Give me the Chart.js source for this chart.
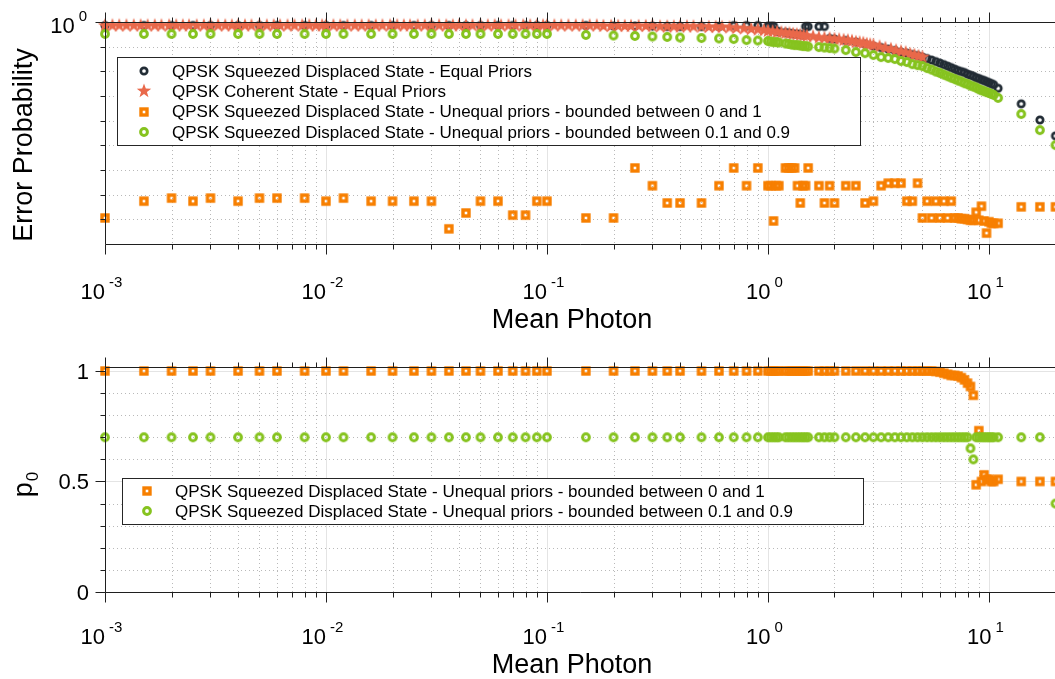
<!DOCTYPE html>
<html>
<head>
<meta charset="utf-8">
<script src="https://cdn.jsdelivr.net/npm/chart.js@4.4.0/dist/chart.umd.min.js"></script>
<style>
  html, body { margin: 0; padding: 0; background: #fff; }
  canvas { display: block; }
</style>
</head>
<body>
<canvas id="errChart" width="1055" height="340"></canvas>
<canvas id="priorChart" width="1055" height="339"></canvas>
<script>
// ---------- data ----------
const meanPhoton = [
  0.001, 0.0015, 0.002, 0.0025, 0.003, 0.004, 0.005, 0.006, 0.008, 0.01,
  0.012, 0.016, 0.02, 0.025, 0.03, 0.036, 0.043, 0.05, 0.06, 0.07, 0.08, 0.09, 0.1,
  0.15, 0.2, 0.25, 0.3, 0.35, 0.4, 0.5, 0.6, 0.7, 0.8, 0.9,
  1.0, 1.03, 1.06, 1.09, 1.12, 1.2, 1.24, 1.28, 1.32, 1.36, 1.4, 1.44, 1.48, 1.52,
  1.7, 1.8, 1.9, 2.0,
  2.25, 2.5, 2.75, 3.0, 3.25, 3.5, 3.75, 4.0, 4.25, 4.5, 4.75, 5.0,
  5.25, 5.5, 5.75, 6.0, 6.25, 6.5, 6.75, 7.0, 7.25, 7.5, 7.75, 8.0,
  8.25, 8.5, 8.75, 9.0, 9.25, 9.5, 9.75, 10.0, 10.25, 10.5,
  11, 14, 17, 20
];

// error probability, squeezed displaced state, equal priors
const errSqueezedEqual = [
  0.964, 0.964, 0.964, 0.964, 0.964, 0.964, 0.964, 0.964, 0.964, 0.964,
  0.964, 0.964, 0.964, 0.964, 0.964, 0.964, 0.964, 0.964, 0.964, 0.964, 0.964, 0.964, 0.964,
  0.964, 0.959, 0.959, 0.959, 0.954, 0.954, 0.954, 0.954, 0.964, 0.964, 0.964,
  0.959, 0.959, 0.959, 0.911, 0.906, 0.897, 0.892, 0.888, 0.883, 0.883, 0.879, 0.874, 0.954, 0.954,
  0.954, 0.954, 0.843, 0.838,
  0.825, 0.812, 0.796, 0.779, 0.767, 0.755, 0.744, 0.732, 0.724, 0.713, 0.706, 0.695,
  0.684, 0.674, 0.663, 0.653, 0.643, 0.633, 0.623, 0.613, 0.604, 0.598, 0.592, 0.582,
  0.576, 0.570, 0.561, 0.556, 0.550, 0.545, 0.539, 0.533, 0.528, 0.522,
  0.503, 0.428, 0.362, 0.307
];

// error probability, squeezed displaced state, unequal priors in [0, 1]
const errUnequal01 = [
  0.131, 0.156, 0.161, 0.156, 0.161, 0.156, 0.161, 0.161, 0.161, 0.156,
  0.161, 0.156, 0.156, 0.156, 0.156, 0.117, 0.138, 0.156, 0.156, 0.135, 0.135, 0.156, 0.156,
  0.131, 0.131, 0.220, 0.183, 0.153, 0.153, 0.153, 0.183, 0.220, 0.183, 0.220,
  0.183, 0.183, 0.127, 0.183, 0.183, 0.220, 0.220, 0.220, 0.220, 0.183, 0.153, 0.183, 0.183, 0.220,
  0.183, 0.153, 0.183, 0.153,
  0.183, 0.183, 0.153, 0.156, 0.183, 0.188, 0.188, 0.188, 0.156, 0.156, 0.188, 0.131,
  0.156, 0.131, 0.156, 0.131, 0.156, 0.131, 0.156, 0.131, 0.131, 0.130, 0.130, 0.129,
  0.128, 0.128, 0.139, 0.128, 0.148, 0.127, 0.112, 0.126, 0.124, 0.124,
  0.124, 0.147, 0.147, 0.147
];

// error probability, squeezed displaced state, unequal priors in [0.1, 0.9]
const errUnequal19 = [
  0.883, 0.883, 0.883, 0.883, 0.883, 0.883, 0.883, 0.883, 0.883, 0.883,
  0.883, 0.883, 0.883, 0.883, 0.883, 0.883, 0.883, 0.883, 0.883, 0.883, 0.883, 0.883, 0.883,
  0.874, 0.869, 0.865, 0.860, 0.856, 0.851, 0.847, 0.843, 0.838, 0.829, 0.825,
  0.821, 0.816, 0.812, 0.812, 0.808, 0.800, 0.796, 0.791, 0.787, 0.787, 0.783, 0.779, 0.779, 0.775,
  0.771, 0.767, 0.763, 0.759,
  0.747, 0.732, 0.724, 0.710, 0.695, 0.688, 0.681, 0.667, 0.660, 0.646, 0.639, 0.633,
  0.620, 0.610, 0.598, 0.589, 0.579, 0.570, 0.561, 0.553, 0.545, 0.539, 0.530, 0.525,
  0.517, 0.512, 0.506, 0.498, 0.493, 0.488, 0.483, 0.479, 0.474, 0.469,
  0.455, 0.385, 0.326, 0.279
];

// coherent state, equal priors (own, denser photon grid)
const coherentPhoton = [
  0.001, 0.00108, 0.00116, 0.00125, 0.00135, 0.00145, 0.00156, 0.00168,
  0.0018, 0.00195, 0.0021, 0.00225, 0.0024, 0.0026, 0.0028, 0.003,
  0.00325, 0.0035, 0.00375, 0.004, 0.0043, 0.0046, 0.005, 0.0054,
  0.0058, 0.0062, 0.0067, 0.0072, 0.0078, 0.0084, 0.009, 0.0096,
  0.01, 0.0108, 0.0116, 0.0125, 0.0135, 0.0145, 0.0156, 0.0168,
  0.018, 0.0195, 0.021, 0.0225, 0.024, 0.026, 0.028, 0.03,
  0.0325, 0.035, 0.0375, 0.04, 0.043, 0.046, 0.05, 0.054,
  0.058, 0.062, 0.067, 0.072, 0.078, 0.084, 0.09, 0.096,
  0.1, 0.108, 0.116, 0.125, 0.135, 0.145, 0.156, 0.168,
  0.18, 0.195, 0.21, 0.225, 0.24, 0.26, 0.28, 0.3,
  0.325, 0.35, 0.375, 0.4, 0.43, 0.46, 0.5, 0.54,
  0.58, 0.62, 0.67, 0.72, 0.78, 0.84, 0.9, 0.96,
  1.0, 1.05, 1.1, 1.15, 1.2, 1.25, 1.3, 1.35, 1.4, 1.45, 1.5, 1.6,
  1.7, 1.8, 1.9, 2.0, 2.1, 2.2, 2.3, 2.4, 2.5, 2.6, 2.7, 2.8,
  2.9, 3.0, 3.2, 3.4, 3.6, 3.8, 4.0, 4.2, 4.4, 4.6, 4.8, 5.0
];
const errCoherentEqual = [
  0.964, 0.964, 0.964, 0.964, 0.964, 0.964, 0.964, 0.964,
  0.964, 0.964, 0.964, 0.964, 0.964, 0.964, 0.964, 0.964,
  0.964, 0.964, 0.964, 0.964, 0.964, 0.964, 0.964, 0.964,
  0.964, 0.964, 0.964, 0.964, 0.964, 0.964, 0.964, 0.964,
  0.964, 0.964, 0.964, 0.964, 0.964, 0.964, 0.964, 0.964,
  0.964, 0.964, 0.964, 0.964, 0.964, 0.964, 0.964, 0.964,
  0.964, 0.964, 0.964, 0.964, 0.964, 0.964, 0.964, 0.964,
  0.964, 0.964, 0.964, 0.964, 0.964, 0.964, 0.964, 0.964,
  0.964, 0.964, 0.964, 0.964, 0.964, 0.964, 0.964, 0.964,
  0.959, 0.959, 0.959, 0.959, 0.959, 0.959, 0.959, 0.959,
  0.954, 0.954, 0.954, 0.954, 0.954, 0.954, 0.954, 0.949,
  0.949, 0.949, 0.945, 0.940, 0.935, 0.930, 0.925, 0.918,
  0.911, 0.906, 0.901, 0.897, 0.892, 0.888, 0.883, 0.879, 0.874, 0.869, 0.865, 0.860,
  0.851, 0.847, 0.843, 0.838, 0.834, 0.829, 0.825, 0.821, 0.812, 0.808, 0.804, 0.796,
  0.791, 0.787, 0.775, 0.763, 0.755, 0.744, 0.736, 0.729, 0.717, 0.710, 0.702, 0.695
];

// optimal prior p0
const p0Unequal01 = [
  1, 1, 1, 1, 1, 1, 1, 1, 1, 1,
  1, 1, 1, 1, 1, 1, 1, 1, 1, 1, 1, 1, 1,
  1, 1, 1, 1, 1, 1, 1, 1, 1, 1, 1,
  1, 1, 1, 1, 1, 1, 1, 1, 1, 1, 1, 1, 1, 1,
  1, 1, 1, 1,
  1, 1, 1, 1, 1, 1, 1, 1, 1, 1, 1, 1,
  1, 1, 0.998, 0.995, 0.99, 0.985, 0.98, 0.98, 0.977, 0.97, 0.96, 0.945,
  0.93, 0.89, 0.485, 0.73, 0.50, 0.53, 0.51, 0.51, 0.50, 0.50,
  0.51, 0.50, 0.50, 0.50
];
const p0Unequal19 = [
  0.7, 0.7, 0.7, 0.7, 0.7, 0.7, 0.7, 0.7, 0.7, 0.7,
  0.7, 0.7, 0.7, 0.7, 0.7, 0.7, 0.7, 0.7, 0.7, 0.7, 0.7, 0.7, 0.7,
  0.7, 0.7, 0.7, 0.7, 0.7, 0.7, 0.7, 0.7, 0.7, 0.7, 0.7,
  0.7, 0.7, 0.7, 0.7, 0.7, 0.7, 0.7, 0.7, 0.7, 0.7, 0.7, 0.7, 0.7, 0.7,
  0.7, 0.7, 0.7, 0.7,
  0.7, 0.7, 0.7, 0.7, 0.7, 0.7, 0.7, 0.7, 0.7, 0.7, 0.7, 0.7,
  0.7, 0.7, 0.7, 0.7, 0.7, 0.7, 0.7, 0.7, 0.7, 0.7, 0.7, 0.7,
  0.65, 0.60, 0.7, 0.7, 0.7, 0.7, 0.7, 0.7, 0.7, 0.7,
  0.7, 0.7, 0.7, 0.4
];

const legendLabels = [
  'QPSK Squeezed Displaced State - Equal Priors',
  'QPSK Coherent State - Equal Priors',
  'QPSK Squeezed Displaced State - Unequal priors - bounded between 0 and 1',
  'QPSK Squeezed Displaced State - Unequal priors - bounded between 0.1 and 0.9'
];

// axis ticks
const xMajorTicks = [0.001, 0.01, 0.1, 1, 10];
const xTickExponents = ['-3', '-2', '-1', '0', '1'];
const xMinorTicks = [
  0.002, 0.003, 0.004, 0.005, 0.006, 0.007, 0.008, 0.009,
  0.02, 0.03, 0.04, 0.05, 0.06, 0.07, 0.08, 0.09,
  0.2, 0.3, 0.4, 0.5, 0.6, 0.7, 0.8, 0.9,
  2, 3, 4, 5, 6, 7, 8, 9, 20
];
const errMinorTicks = [0.774, 0.599, 0.464, 0.359, 0.278, 0.215, 0.167, 0.129];
const p0MajorTicks = [0, 0.5, 1];
const p0TickLabels = ['0', '0.5', '1'];
const p0MinorTicks = [0.1, 0.2, 0.3, 0.4, 0.6, 0.7, 0.8, 0.9];

// ---------- styling ----------
const FONT = '"Liberation Sans", Arial, Helvetica, sans-serif';
const DARK = '#222c35';
const CORAL = '#e9694b';
const ORANGE = '#f77f00';
const GREEN = '#86c31f';
const AXIS = '#1f1f1f';

function makeRing(color, r, lw) {
  const c = document.createElement('canvas');
  const s = Math.ceil(2 * r + lw + 2);
  c.width = c.height = s;
  const g = c.getContext('2d');
  g.strokeStyle = color;
  g.lineWidth = lw;
  g.beginPath();
  g.arc(s / 2, s / 2, r, 0, Math.PI * 2);
  g.stroke();
  return c;
}
function makeSquare(color, side, lw) {
  const c = document.createElement('canvas');
  const s = 12;
  c.width = c.height = s;
  const g = c.getContext('2d');
  g.strokeStyle = color;
  g.lineWidth = lw;
  g.strokeRect(s / 2 - side / 2, s / 2 - side / 2, side, side);
  return c;
}
function makeStar(color, R, ri) {
  const c = document.createElement('canvas');
  const s = Math.ceil(2 * R + 2);
  c.width = c.height = s;
  const g = c.getContext('2d');
  g.fillStyle = color;
  g.beginPath();
  for (let i = 0; i < 10; i++) {
    const rad = i % 2 ? ri : R;
    const a = -Math.PI / 2 + i * Math.PI / 5;
    g.lineTo(s / 2 + rad * Math.cos(a), s / 2 + rad * Math.sin(a));
  }
  g.closePath();
  g.fill();
  return c;
}

const ringDark = makeRing(DARK, 3.2, 2.7);
const starCoral = makeStar(CORAL, 7.6, 3.1);
const squareOrange = makeSquare(ORANGE, 6, 3.4);
const ringGreen = makeRing(GREEN, 3.4, 3);

function pts(xs, ys) {
  return xs.map((x, i) => ({ x: x, y: ys[i] }));
}
function ds(label, data, marker, order) {
  return { label, data, pointStyle: marker, pointRadius: 5, showLine: false, clip: false, order };
}

const crisp = v => Math.round(v) + 0.5;
function line(ctx, x1, y1, x2, y2) {
  ctx.beginPath();
  ctx.moveTo(x1, y1);
  ctx.lineTo(x2, y2);
  ctx.stroke();
}
// "10" with a raised exponent, MATLAB style
function drawPow(ctx, exp, x, baseline, align) {
  ctx.font = '22px ' + FONT;
  const wb = ctx.measureText('10').width;
  ctx.font = '15px ' + FONT;
  const we = ctx.measureText(exp).width;
  const total = wb + 4 + we;
  const x0 = align === 'right' ? x - total : x - total / 2 - 4;
  ctx.textAlign = 'left';
  ctx.textBaseline = 'alphabetic';
  ctx.fillStyle = '#000';
  ctx.font = '22px ' + FONT;
  ctx.fillText('10', x0, baseline);
  ctx.font = '15px ' + FONT;
  ctx.fillText(exp, x0 + wb + 4, baseline - 12);
}
function drawLegend(ctx, box, entries) {
  ctx.save();
  ctx.fillStyle = '#fff';
  ctx.fillRect(box.x, box.y, box.w, box.h);
  ctx.strokeStyle = '#262626';
  ctx.lineWidth = 1;
  ctx.strokeRect(box.x + 0.5, box.y + 0.5, box.w, box.h);
  ctx.font = '17px ' + FONT;
  ctx.textAlign = 'left';
  ctx.textBaseline = 'middle';
  entries.forEach((e, i) => {
    const cy = box.y + box.first + i * box.step;
    ctx.drawImage(e.marker, Math.round(box.x + box.mx - e.marker.width / 2), Math.round(cy - e.marker.height / 2));
    ctx.fillStyle = '#000';
    ctx.fillText(e.label, box.x + box.tx, cy + 1);
  });
  ctx.restore();
}

// MATLAB-like box, grid, ticks and labels, drawn through the chart scales
function matlabAxes(o) {
  return {
    id: 'matlabAxes',
    beforeDatasetsDraw(chart) {
      const { ctx, chartArea: a, scales: { x, y } } = chart;
      ctx.save();
      ctx.beginPath();
      ctx.rect(a.left, a.top, a.right - a.left, a.bottom - a.top);
      ctx.clip();
      ctx.lineWidth = 1;
      ctx.strokeStyle = '#b9b9b9';
      ctx.setLineDash([1, 3]);
      xMinorTicks.forEach(v => { const px = crisp(x.getPixelForValue(v)); line(ctx, px, a.top, px, a.bottom); });
      o.yMinor.forEach(v => { const py = crisp(y.getPixelForValue(v)); line(ctx, a.left, py, a.right, py); });
      ctx.setLineDash([]);
      ctx.strokeStyle = '#e4e4e4';
      xMajorTicks.forEach(v => { const px = crisp(x.getPixelForValue(v)); line(ctx, px, a.top, px, a.bottom); });
      o.yMajor.forEach(v => { const py = crisp(y.getPixelForValue(v)); line(ctx, a.left, py, a.right, py); });
      ctx.restore();
    },
    afterDatasetsDraw(chart) {
      const { ctx, chartArea: a, scales: { x, y } } = chart;
      ctx.save();
      ctx.strokeStyle = AXIS;
      ctx.lineWidth = 1;
      const L = crisp(a.left), B = crisp(a.bottom), T = crisp(a.top);
      line(ctx, L, T, a.right, T);
      line(ctx, L, B, a.right, B);
      line(ctx, L, T, L, B);
      // x ticks, outwards on bottom and top
      xMinorTicks.forEach(v => {
        const px = crisp(x.getPixelForValue(v));
        line(ctx, px, B, px, B + 5);
        line(ctx, px, T, px, T - 5);
      });
      xMajorTicks.forEach((v, i) => {
        const px = crisp(x.getPixelForValue(v));
        line(ctx, px, B, px, B + 10);
        line(ctx, px, T, px, T - 10);
        drawPow(ctx, xTickExponents[i], px, B + o.xLabelDy, 'center');
      });
      // y ticks
      o.yMinorTicks.forEach(v => { const py = crisp(y.getPixelForValue(v)); line(ctx, L, py, L - 5, py); });
      o.yMajorTicks.forEach(v => { const py = crisp(y.getPixelForValue(v)); line(ctx, L, py, L - 10, py); });
      o.yLabels(ctx, y);
      // x title
      ctx.fillStyle = '#000';
      ctx.font = '27px ' + FONT;
      ctx.textAlign = 'center';
      ctx.textBaseline = 'alphabetic';
      ctx.fillText('Mean Photon', 572, B + o.xTitleDy);
      o.yTitle(ctx, a);
      drawLegend(ctx, o.legend, o.legendEntries);
      ctx.restore();
    }
  };
}

const common = {
  responsive: false,
  animation: false,
  devicePixelRatio: 1,
  events: [],
  plugins: { legend: { display: false }, tooltip: { enabled: false } }
};

new Chart(document.getElementById('errChart'), {
  type: 'scatter',
  data: {
    datasets: [
      ds(legendLabels[0], pts(meanPhoton, errSqueezedEqual), ringDark, 4),
      ds(legendLabels[1], pts(coherentPhoton, errCoherentEqual), starCoral, 3),
      ds(legendLabels[2], pts(meanPhoton, errUnequal01), squareOrange, 2),
      ds(legendLabels[3], pts(meanPhoton, errUnequal19), ringGreen, 1)
    ]
  },
  options: {
    ...common,
    layout: { autoPadding: false, padding: { left: 105, top: 22, right: 0, bottom: 96 } },
    scales: {
      x: { type: 'logarithmic', min: 0.001, max: 19.9, display: false },
      y: { type: 'logarithmic', min: 0.1, max: 1, display: false }
    }
  },
  plugins: [matlabAxes({
    yMinor: errMinorTicks,
    yMajor: [],
    yMinorTicks: errMinorTicks,
    yMajorTicks: [1],
    xLabelDy: 54,
    xTitleDy: 83,
    yLabels(ctx, y) {
      drawPow(ctx, '0', 87, crisp(y.getPixelForValue(1)) + 10, 'right');
    },
    yTitle(ctx) {
      ctx.save();
      ctx.translate(32, 145);
      ctx.rotate(-Math.PI / 2);
      ctx.font = '27px ' + FONT;
      ctx.textAlign = 'center';
      ctx.fillText('Error Probability', 0, 0);
      ctx.restore();
    },
    legend: { x: 117, y: 57, w: 743, h: 88, first: 14, step: 20.3, mx: 27, tx: 55 },
    legendEntries: [
      { marker: ringDark, label: legendLabels[0] },
      { marker: starCoral, label: legendLabels[1] },
      { marker: squareOrange, label: legendLabels[2] },
      { marker: ringGreen, label: legendLabels[3] }
    ]
  })]
});

new Chart(document.getElementById('priorChart'), {
  type: 'scatter',
  data: {
    datasets: [
      ds(legendLabels[2], pts(meanPhoton, p0Unequal01), squareOrange, 2),
      ds(legendLabels[3], pts(meanPhoton, p0Unequal19), ringGreen, 1)
    ]
  },
  options: {
    ...common,
    layout: { autoPadding: false, padding: { left: 105, top: 27, right: 0, bottom: 87 } },
    scales: {
      x: { type: 'logarithmic', min: 0.001, max: 19.9, display: false },
      y: { type: 'linear', min: 0, max: 1.018, display: false }
    }
  },
  plugins: [matlabAxes({
    yMinor: p0MinorTicks,
    yMajor: [0.5, 1],
    yMinorTicks: p0MinorTicks,
    yMajorTicks: p0MajorTicks,
    xLabelDy: 51,
    xTitleDy: 80,
    yLabels(ctx, y) {
      ctx.font = '22px ' + FONT;
      ctx.fillStyle = '#000';
      ctx.textAlign = 'right';
      ctx.textBaseline = 'middle';
      p0MajorTicks.forEach((v, i) => ctx.fillText(p0TickLabels[i], 89, crisp(y.getPixelForValue(v)) + 1));
    },
    yTitle(ctx) {
      ctx.save();
      ctx.translate(32, 145);
      ctx.rotate(-Math.PI / 2);
      ctx.textAlign = 'left';
      ctx.font = '27px ' + FONT;
      const wp = ctx.measureText('p').width;
      ctx.font = '17px ' + FONT;
      const w0 = ctx.measureText('0').width;
      const x0 = -(wp + w0) / 2;
      ctx.font = '27px ' + FONT;
      ctx.fillText('p', x0, 0);
      ctx.font = '17px ' + FONT;
      ctx.fillText('0', x0 + wp + 1, 6);
      ctx.restore();
    },
    legend: { x: 122, y: 138, w: 741, h: 46, first: 13, step: 20, mx: 25, tx: 53 },
    legendEntries: [
      { marker: squareOrange, label: legendLabels[2] },
      { marker: ringGreen, label: legendLabels[3] }
    ]
  })]
});
</script>
</body>
</html>
